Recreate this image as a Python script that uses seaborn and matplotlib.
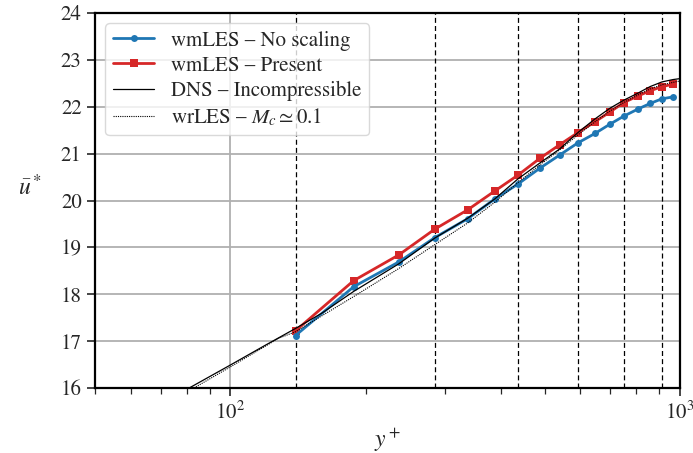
import numpy as np
import pandas as pd
import matplotlib
matplotlib.use("Agg")
import matplotlib.pyplot as plt
import seaborn as sns

# ---- data ----
les_yplus = [139.6, 188, 237, 285, 337, 387, 436, 488, 540, 593, 647, 699, 750, 806, 858, 912, 965]
u_noscale = [17.12, 18.16, 18.69, 19.21, 19.61, 20.03, 20.35, 20.69, 20.97, 21.23, 21.43, 21.63,
             21.80, 21.95, 22.07, 22.17, 22.21]
u_present = [17.22, 18.29, 18.84, 19.39, 19.80, 20.20, 20.54, 20.90, 21.19, 21.45, 21.68, 21.89,
             22.09, 22.23, 22.34, 22.43, 22.48]

dns_yplus = [81, 100, 120, 139.6, 160, 188, 237, 285, 337, 387, 436, 488, 540, 593, 647, 699,
             750, 806, 858, 912, 965, 1000]
u_dns = [16.0, 16.49, 16.92, 17.27, 17.6, 18.06, 18.65, 19.2, 19.62, 20.03, 20.46, 20.80, 21.10,
         21.45, 21.74, 21.97, 22.14, 22.29, 22.43, 22.53, 22.58, 22.6]

wr_yplus = [83, 100, 128, 139.6, 188, 237, 285, 337, 387, 436, 488, 540, 593, 647, 699, 750, 806,
            858, 912, 965, 1000]
u_wr = [16.0, 16.45, 17.06, 17.2, 17.95, 18.55, 19.06, 19.52, 19.96, 20.38, 20.76, 21.08, 21.40,
        21.68, 21.91, 22.09, 22.25, 22.38, 22.47, 22.52, 22.55]

vlines_yplus = [139.6, 284.7, 435.6, 592.7, 750, 912]

legend_labels = ["wmLES – No scaling", "wmLES – Present", "DNS – Incompressible",
                 r"wrLES – $M_c \simeq 0.1$"]

# ---- style ----
sns.set_style("ticks")
plt.rcParams["font.family"] = ["STIXGeneral", "DejaVu Serif"]
plt.rcParams["mathtext.fontset"] = "stix"
plt.rcParams["font.size"] = 15

fig = plt.figure(figsize=(6.93, 4.53), dpi=100)
ax = fig.add_axes([95 / 693, 1 - 388 / 453, (680 - 95) / 693, (388 - 13) / 453])

ax.set_xscale("log")
ax.grid(True, which="major", color="#b0b0b0", lw=1.3)
ax.set_axisbelow(True)

for xv in vlines_yplus:
    ax.axvline(xv, color="black", lw=0.9, ls=(0, (4, 2.5)), zorder=1)

blue = "#1f77b4"
red = "#d62728"

sns.lineplot(x=les_yplus, y=u_noscale, ax=ax, color=blue, lw=2, marker="o", markersize=5,
             markeredgewidth=0, label=legend_labels[0], zorder=4)
sns.lineplot(x=les_yplus, y=u_present, ax=ax, color=red, lw=2, marker="s", markersize=5.5,
             markeredgewidth=0, label=legend_labels[1], zorder=3)
sns.lineplot(x=dns_yplus, y=u_dns, ax=ax, color="black", lw=0.9, label=legend_labels[2], zorder=5)
sns.lineplot(x=wr_yplus, y=u_wr, ax=ax, color="black", lw=0.8, ls=(0, (1, 1)),
             label=legend_labels[3], zorder=5)

ax.set_xlim(50, 1000)
ax.set_ylim(16, 24)
ax.set_yticks(range(16, 25))
ax.set_xlabel(r"$y^+$", fontsize=17, labelpad=2)
ax.set_ylabel(r"$\bar{u}^*$", fontsize=17, rotation=0, labelpad=22)

for s in ax.spines.values():
    s.set_linewidth(1.6)
    s.set_color("black")
ax.tick_params(axis="both", which="major", direction="out", length=6, width=1.2, labelsize=15)
ax.tick_params(axis="both", which="minor", direction="out", length=4, width=0.9)

leg = ax.legend(loc="upper left", fontsize=15, frameon=True, fancybox=True, framealpha=0.8,
                edgecolor="#d0d0d0", handlelength=2.0, borderpad=0.35, labelspacing=0.25)

fig.savefig("out.png", dpi=100)
